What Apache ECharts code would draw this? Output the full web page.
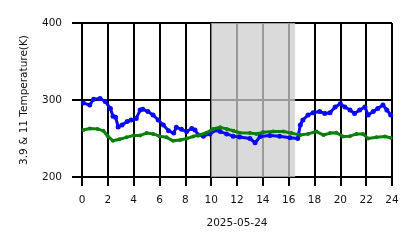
<!DOCTYPE html>
<html><head><meta charset="utf-8">
<script src="https://cdn.jsdelivr.net/npm/echarts@6/dist/echarts.min.js"></script>
<style>html,body{margin:0;padding:0;background:#fff}#c{width:418px;height:248px}</style>
</head><body><div id="c"></div>
<script>
// Hours of day (UTC) and brightness temperatures (K)
const hours11 = [0.1,0.6,0.9,1.4,1.8,2.2,2.4,2.6,2.8,3.1,3.5,3.8,4.2,4.5,4.7,5.1,5.5,5.9,6.3,6.7,7.1,7.3,7.7,8.1,8.5,8.75,9.0,9.4,9.9,10.4,10.7,11.2,11.7,12.2,13.0,13.4,13.8,14.55,15.3,16.1,16.7,16.9,17.1,17.5,17.9,18.4,18.8,19.2,19.6,20.0,20.35,20.75,21.1,21.5,21.9,22.15,22.55,22.9,23.3,23.6,23.9];
const temp11 = [296,293.5,301,302,298,289,279,277.5,265,267.5,272,274,276,287,288,285,280.5,274,267.5,260,257,264.5,262,259,263,261,254.5,253,256,261,259,256,253,252,250,244.5,252.5,254,253,251,250,267.5,274,280.5,283.5,285,282.5,283.5,291,295,291,287,282.5,287,291,280.5,285,289,293.5,287,280.5];
const hours39 = [0.1,0.6,1.2,1.65,2.0,2.4,2.9,3.45,4.0,4.5,5.0,5.5,6.0,6.55,7.05,7.6,8.1,8.6,9.1,9.65,10.15,10.7,11.2,11.7,12.2,13.0,13.5,14.0,14.8,15.6,16.2,16.9,17.5,18.15,18.7,19.2,19.7,20.2,20.75,21.25,21.75,22.15,22.8,23.45,23.9];
const temp39 = [261,263,262.5,260,253,247,249,251.5,254,254,257,256,253,251.5,247,248,250,252.5,254.5,257.5,262.5,264.5,262.5,260,257.5,257,256,258,259,259,257,254.5,256,259,254.5,257,257.5,252.5,253,256,256,250,251.5,252.5,251];
const shadeStart = 10, shadeEnd = 16.5;
const xTicks = [0,2,4,6,8,10,12,14,16,18,20,22,24];
const yTicks = [200,300,400];
const dateLabel = '2025-05-24';
const yLabel = '3.9 & 11 Temperature(K)';

const font = 'DejaVu Sans';
const chart = echarts.init(document.getElementById('c'), null, {renderer:'canvas'});
chart.setOption({
  animation:false,
  grid:{left:82,right:26,top:23,bottom:71,containLabel:false},
  xAxis:{type:'value',min:xTicks[0],max:xTicks[xTicks.length-1],interval:2,
    name:dateLabel,nameLocation:'middle',nameGap:41,
    nameTextStyle:{fontFamily:font,fontSize:10.5,color:'#111'},
    axisLine:{show:false},
    axisTick:{show:true,length:9,lineStyle:{color:'#000',width:2}},
    axisLabel:{fontFamily:font,fontSize:10.5,color:'#111',margin:18},
    splitLine:{show:true,lineStyle:{color:'#000',width:2}}},
  yAxis:{type:'value',min:yTicks[0],max:yTicks[yTicks.length-1],interval:100,
    name:yLabel,nameLocation:'middle',nameGap:52,
    nameTextStyle:{fontFamily:font,fontSize:10.5,color:'#111'},
    axisLine:{show:false},
    axisTick:{show:true,length:10,lineStyle:{color:'#000',width:2}},
    axisLabel:{fontFamily:font,fontSize:10.5,color:'#111',margin:20},
    splitLine:{show:true,lineStyle:{color:'#000',width:2}}},
  series:[
    {type:'line',name:'11',data:hours11.map((h,i)=>[h,temp11[i]]),
     showSymbol:true,symbol:'circle',symbolSize:5,itemStyle:{color:'#0a0af5'},
     lineStyle:{color:'#0a0af5',width:3},z:3,
     markArea:{silent:true,itemStyle:{color:'rgba(205,205,205,0.75)'},
       data:[[{xAxis:shadeStart},{xAxis:shadeEnd}]]}},
    {type:'line',name:'3.9',data:hours39.map((h,i)=>[h,temp39[i]]),
     showSymbol:true,symbol:'circle',symbolSize:4,itemStyle:{color:'#0a800a'},
     lineStyle:{color:'#0a800a',width:3},z:4}
  ]
});
</script></body></html>
